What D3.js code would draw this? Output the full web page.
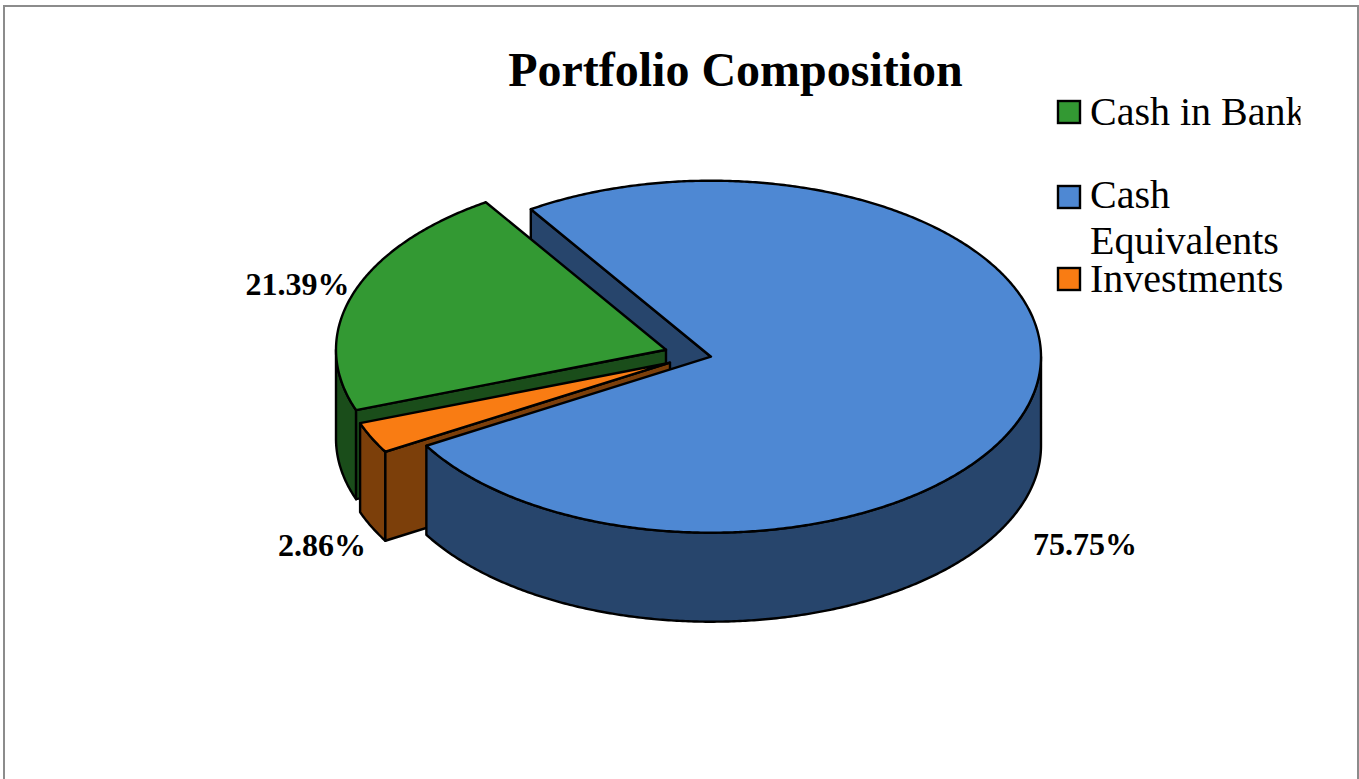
<!DOCTYPE html>
<html>
<head>
<meta charset="utf-8">
<script src="https://cdn.jsdelivr.net/npm/d3@7"></script>
<style>
  html, body { margin: 0; padding: 0; background: #fff; overflow: hidden; }
  svg { display: block; }
  text { font-family: "Liberation Serif", serif; fill: #000; }
</style>
</head>
<body>
<svg id="chart" width="1359" height="779"></svg>
<script>
  // Chart values.
  var title      = 'Portfolio Composition',
      categories = [ 'Cash in Bank', 'Cash Equivalents', 'Investments' ],
      values     = [ 21.39, 75.75, 2.86 ];

  // Legend text wraps the way the original box did.
  var legendLines = [ [ 'Cash in Bank' ], [ 'Cash', 'Equivalents' ], [ 'Investments' ] ];

  // Layout and colours.
  var cx = 711, cy = 356.7, rx = 330, ry = 176, depth = 89,
      firstAngle = -110.1 * Math.PI / 180,
      topColor  = [ '#339933', '#4e88d3', '#f97c13' ],
      sideColor = [ '#1a4d1a', '#27456c', '#7c3f0a' ],
      explode   = [ [ -45, -7 ], [ 0, 0 ], [ -41, 6 ] ],
      labelPos  = [ [ 297.5, 295 ], [ 1085, 555 ], [ 322, 556 ] ],
      legendRow = [ 100, 185, 267 ],
      legendBase = [ [ 125 ], [ 208, 254 ], [ 292 ] ];

  var svg = d3.select( '#chart' );

  var x = d3.scaleLinear().domain( [ -1, 1 ] ).range( [ cx - rx, cx + rx ] ),
      y = d3.scaleLinear().domain( [ -1, 1 ] ).range( [ cy - ry, cy + ry ] );

  var slices = d3.pie()
    .sort( null )
    .startAngle( firstAngle )
    .endAngle( firstAngle + 2 * Math.PI )( values );

  var line = d3.line();

  // Point on the rim of a slice, d is 0 for top face and depth for the bottom.
  function rim( i, angle, d ) {
    return [ x( Math.sin( angle ) ) + explode[ i ][ 0 ],
             y( -Math.cos( angle ) ) + explode[ i ][ 1 ] + ( d || 0 ) ];
  }

  function apex( i, d ) {
    return [ x( 0 ) + explode[ i ][ 0 ], y( 0 ) + explode[ i ][ 1 ] + ( d || 0 ) ];
  }

  function arcPoints( i, a0, a1, d ) {
    var n = Math.ceil( Math.abs( a1 - a0 ) * 180 / Math.PI * 2 ) + 1;
    return d3.range( n + 1 ).map( function( k ) {
      return rim( i, a0 + ( a1 - a0 ) * k / n, d );
    });
  }

  function draw( points, fill ) {
    svg.append( 'path' )
      .attr( 'd', line( points ) + 'Z' )
      .attr( 'fill', fill )
      .attr( 'stroke', '#000' )
      .attr( 'stroke-width', 2.4 )
      .attr( 'stroke-linejoin', 'round' );
  }

  function topFace( i ) {
    var s = slices[ i ];
    draw( [ apex( i ) ].concat( arcPoints( i, s.startAngle, s.endAngle ) ), topColor[ i ] );
  }

  // The cut face along the start edge of a slice.
  function edgeWall( i ) {
    var a = slices[ i ].startAngle;
    draw( [ apex( i ), rim( i, a ), rim( i, a, depth ), apex( i, depth ) ], sideColor[ i ] );
  }

  // Only the front half of the rim shows, that is from 90 to 270 degrees.
  function outerWall( i ) {
    var s = slices[ i ],
        turn = 2 * Math.PI,
        a0 = s.startAngle, a1 = s.endAngle;
    if ( a1 < 0 ) { a0 += turn; a1 += turn; }
    a0 = Math.max( a0, Math.PI / 2 );
    a1 = Math.min( a1, 3 * Math.PI / 2 );
    draw( arcPoints( i, a0, a1 ).concat( arcPoints( i, a1, a0, depth ) ), sideColor[ i ] );
  }

  // Frame, the bottom side is cut off by the window.
  svg.append( 'path' )
    .attr( 'd', 'M4,779V6H1358V779' )
    .attr( 'fill', 'none' )
    .attr( 'stroke', '#8c8c8c' )
    .attr( 'stroke-width', 2 );

  // Back to front.
  edgeWall( 1 );
  outerWall( 0 );
  edgeWall( 0 );
  topFace( 0 );
  outerWall( 2 );
  edgeWall( 2 );
  topFace( 2 );
  outerWall( 1 );
  topFace( 1 );

  svg.append( 'text' )
    .attr( 'x', 735.5 )
    .attr( 'y', 86 )
    .attr( 'text-anchor', 'middle' )
    .style( 'font-size', '48px' )
    .style( 'font-weight', 'bold' )
    .text( title );

  // Data labels.
  svg.selectAll( '.value-label' )
    .data( values )
    .enter().append( 'text' )
      .attr( 'class', 'value-label' )
      .attr( 'x', function( d, i ) { return labelPos[ i ][ 0 ]; } )
      .attr( 'y', function( d, i ) { return labelPos[ i ][ 1 ]; } )
      .attr( 'text-anchor', 'middle' )
      .style( 'font-size', '32px' )
      .style( 'font-weight', 'bold' )
      .text( function( d ) { return d3.format( '.2f' )( d ) + '%'; } );

  // Legend, the text box cuts the last letter of the first entry.
  svg.append( 'clipPath' )
    .attr( 'id', 'legend-clip' )
    .append( 'rect' )
      .attr( 'x', 1050 )
      .attr( 'y', 80 )
      .attr( 'width', 250.5 )
      .attr( 'height', 240 );

  var legend = svg.append( 'g' ).attr( 'clip-path', 'url(#legend-clip)' );

  categories.forEach( function( name, i ) {
    legend.append( 'rect' )
      .attr( 'x', 1058 )
      .attr( 'y', legendRow[ i ] + 1 )
      .attr( 'width', 22 )
      .attr( 'height', 22 )
      .attr( 'fill', topColor[ i ] )
      .attr( 'stroke', '#000' )
      .attr( 'stroke-width', 2.4 );

    legendLines[ i ].forEach( function( text, j ) {
      legend.append( 'text' )
        .attr( 'x', 1090 )
        .attr( 'y', legendBase[ i ][ j ] )
        .style( 'font-size', '40px' )
        .text( text );
    });
  });
</script>
</body>
</html>
